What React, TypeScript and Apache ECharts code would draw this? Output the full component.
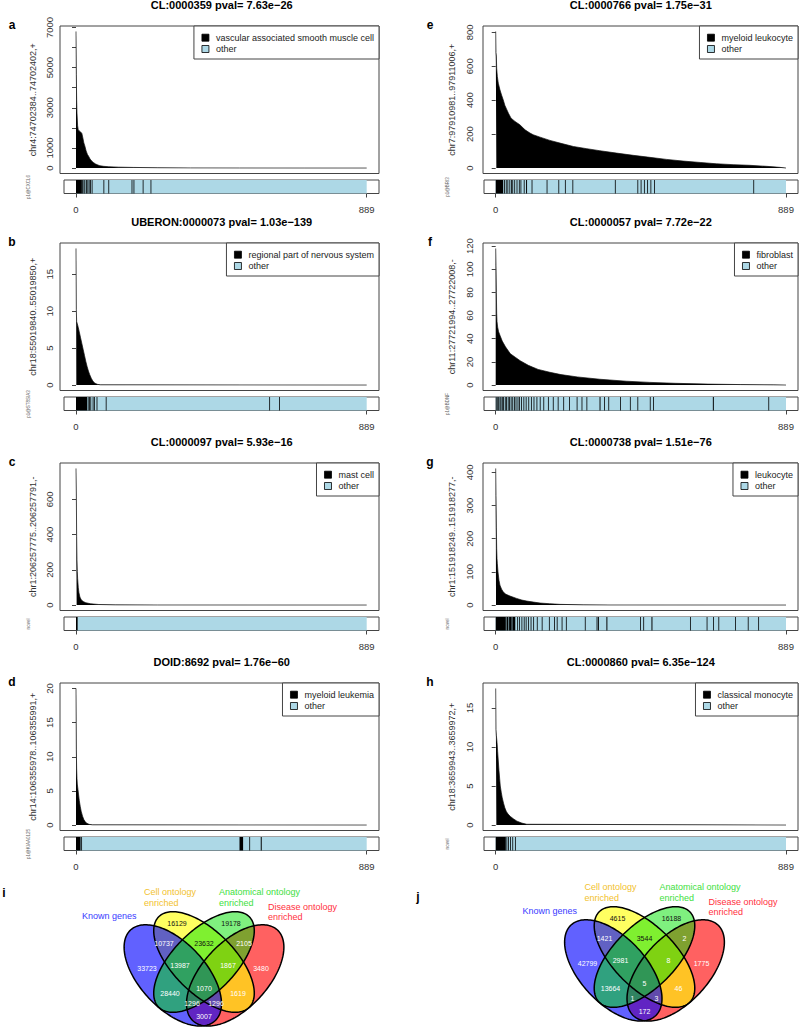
import React, { useEffect, useRef } from "react";
import * as echarts from "echarts";

const FONT = '"Liberation Sans", Arial, Helvetica, sans-serif';
const N_SAMPLES = 889;
const STRIP_TICKS = [0, 889];

// ---------- panel texts ----------
const letters = ["a", "b", "c", "d", "e", "f", "g", "h"];
const titles = [
  "CL:0000359 pval= 7.63e\u221226",
  "UBERON:0000073 pval= 1.03e\u2212139",
  "CL:0000097 pval= 5.93e\u221216",
  "DOID:8692 pval= 1.76e\u221260",
  "CL:0000766 pval= 1.75e\u221231",
  "CL:0000057 pval= 7.72e\u221222",
  "CL:0000738 pval= 1.51e\u221276",
  "CL:0000860 pval= 6.35e\u2212124",
];
const categories = [
  "vascular associated smooth muscle cell",
  "regional part of nervous system",
  "mast cell",
  "myeloid leukemia",
  "myeloid leukocyte",
  "fibroblast",
  "leukocyte",
  "classical monocyte",
];
const yNames = [
  "chr4:74702384..74702402,+",
  "chr18:55019840..55019850,+",
  "chr1:206257775..206257791,-",
  "chr14:106355978..106355991,+",
  "chr7:97910981..97911006,+",
  "chr11:27721994..27722008,-",
  "chr1:151918249..151918277,-",
  "chr18:3659943..3659972,+",
];
const stripNames = ["p1@CXCL6", "p1@ST8SIA3", "novel", "p1@KIAA0125", "p1@BRI3", "p1@BDNF", "novel", "novel"];

// ---------- y ticks ----------
const aTicks = [0, 1000, 2000, 3000, 4000, 5000, 6000, 7000];
const aTickLabels = [0, 1000, 3000, 5000, 7000];
const bTicks = [0, 5, 10, 15];
const cTicks = [0, 200, 400, 600];
const dTicks = [0, 5, 10, 15, 20];
const eTicks = [0, 200, 400, 600, 800];
const fTicks = [0, 20, 40, 60, 80, 100, 120];
const gTicks = [0, 100, 200, 300, 400];
const hTicks = [0, 5, 10, 15];

// ---------- sorted expression curves [rank, value] ----------
const aCurve = [[0, 6800], [1, 4650], [2, 3400], [3, 2750], [5, 2100], [7, 1900], [10, 1850], [14, 1800], [18, 1720], [21, 1500], [24, 1250], [27, 1100], [31, 850], [35, 680], [38, 600], [43, 450], [48, 350], [53, 280], [60, 200], [67, 150], [73, 115], [85, 85], [100, 65], [130, 45], [175, 30], [250, 15], [350, 7], [500, 3], [700, 1], [889, 0]];
const bCurve = [[0, 18.5], [1, 10.2], [2, 8.6], [4, 8.3], [7, 7.8], [10, 7.2], [14, 6.4], [18, 5.6], [22, 4.8], [26, 4], [30, 3.2], [34, 2.5], [38, 1.9], [42, 1.4], [47, 0.9], [52, 0.5], [58, 0.25], [65, 0.1], [75, 0.03], [889, 0]];
const cCurve = [[0, 775], [1, 630], [2, 390], [3, 260], [4, 190], [5, 150], [7, 100], [9, 70], [12, 45], [16, 30], [22, 20], [30, 13], [45, 7], [70, 3], [120, 1], [250, 0.3], [889, 0]];
const dCurve = [[0, 20], [1, 11], [2, 8.2], [3, 6.8], [4, 6], [6, 5.2], [8, 4.4], [10, 3.6], [13, 2.7], [16, 2], [20, 1.3], [24, 0.8], [28, 0.5], [33, 0.25], [40, 0.1], [50, 0.03], [889, 0]];
const eCurve = [[0, 805], [1, 680], [2, 660], [3, 588], [5, 540], [8, 500], [13, 461], [18, 430], [23, 402], [28, 370], [32, 353], [39, 323], [47, 294], [59, 275], [74, 255], [90, 225], [105, 206], [115, 196], [136, 182], [166, 163], [197, 147], [238, 127], [279, 114], [319, 102], [370, 88], [421, 75], [472, 63], [523, 51], [574, 41], [626, 33], [676, 25], [727, 20], [778, 16], [830, 10], [870, 4], [889, 0]];
const fCurve = [[0, 118], [1, 103], [2, 80], [3, 62], [4, 55], [6, 50], [9, 46], [13, 43], [20, 38], [30, 33], [45, 27], [60, 24], [75, 21], [100, 17], [130, 13.5], [166, 11], [200, 9], [250, 7], [319, 5], [400, 3.3], [472, 2.3], [550, 1.5], [650, 0.8], [750, 0.4], [850, 0.15], [889, 0]];
const gCurve = [[0, 412], [1, 330], [2, 235], [3, 170], [4, 140], [5, 125], [7, 100], [10, 75], [13, 60], [18, 48], [23, 40], [30, 33], [44, 27], [64, 20], [80, 15], [95, 12], [115, 9], [136, 6], [165, 4], [197, 2], [268, 0.6], [350, 0.2], [889, 0]];
const hCurve = [[0, 17.5], [1, 12.2], [2, 11.5], [4, 10.6], [6, 9.4], [8, 8.2], [10, 7], [12, 6], [14, 5], [17, 4.2], [20, 3.5], [24, 2.8], [28, 2.2], [33, 1.7], [38, 1.4], [45, 1.1], [54, 0.8], [65, 0.5], [80, 0.25], [95, 0.1], [889, 0]];

// ---------- category members: runs of ranks [start, end] ----------
const aMembers = [[0, 17], [19, 20], [23, 23], [26, 27], [31, 31], [35, 35], [39, 39], [43, 43], [48, 48], [84, 84], [99, 99], [170, 171], [176, 176], [204, 204], [228, 228]];
const bMembers = [[0, 33], [36, 37], [40, 41], [44, 44], [51, 51], [55, 55], [63, 63], [91, 92], [591, 591], [621, 622]];
const cMembers = [[0, 4]];
const dMembers = [[0, 13], [16, 16], [500, 510], [530, 530], [565, 567]];
const eMembers = [[0, 22], [26, 26], [31, 31], [36, 36], [42, 42], [47, 47], [51, 51], [57, 57], [64, 64], [71, 71], [76, 76], [86, 86], [93, 95], [110, 110], [156, 156], [192, 192], [212, 212], [235, 235], [365, 365], [434, 434], [444, 444], [454, 454], [464, 464], [474, 474], [485, 485], [789, 789]];
const fMembers = [[0, 2], [5, 5], [8, 9], [12, 12], [15, 16], [19, 19], [23, 24], [28, 28], [32, 33], [37, 37], [41, 41], [46, 47], [51, 51], [56, 56], [61, 62], [67, 67], [72, 72], [78, 79], [85, 85], [92, 92], [100, 100], [108, 108], [116, 117], [125, 125], [135, 135], [146, 146], [160, 160], [175, 175], [190, 190], [207, 207], [225, 225], [248, 248], [263, 263], [278, 278], [318, 320], [332, 332], [345, 345], [381, 381], [411, 411], [434, 434], [472, 472], [482, 482], [665, 667], [835, 835]];
const gMembers = [[0, 30], [33, 38], [41, 48], [51, 59], [66, 66], [72, 72], [79, 79], [86, 86], [92, 92], [99, 99], [107, 107], [115, 115], [126, 126], [141, 141], [163, 163], [179, 179], [187, 187], [202, 202], [215, 215], [273, 273], [309, 309], [313, 315], [339, 341], [442, 442], [452, 452], [477, 479], [595, 595], [646, 646], [666, 666], [682, 682], [733, 733], [772, 773], [804, 804]];
const hMembers = [[0, 30], [33, 34], [38, 38], [44, 44], [51, 51], [59, 59]];

// ---------- Venn diagrams ----------
const vennRegions = ["Y", "G", "BY", "YG", "GR", "B", "BYG", "YGR", "R", "BYGR", "BG", "YR", "BGR", "BYR", "BR"];
const vennICounts = [16129, 19178, 10737, 23632, 2105, 33723, 13987, 1867, 3480, 1070, 28440, 1619, 1296, 1296, 3007];
const vennJCounts = [4615, 16188, 1421, 3544, 2, 42799, 2981, 8, 1775, 5, 13664, 46, 1, 3, 172];
const vennSetLabels = ["Known genes", "Cell ontology\nenriched", "Anatomical ontology\nenriched", "Disease ontology\nenriched"];

// ---------- layout (pixels) ----------
const curves = [aCurve, bCurve, cCurve, dCurve, eCurve, fCurve, gCurve, hCurve];
const members = [aMembers, bMembers, cMembers, dMembers, eMembers, fMembers, gMembers, hMembers];
const ticks = [aTicks, bTicks, cTicks, dTicks, eTicks, fTicks, gTicks, hTicks];
const tickLabels = [aTickLabels, bTicks, cTicks, dTicks, eTicks, fTicks, gTicks, hTicks];

const COLS = [
  { boxL: 60, boxR: 379, stripL: 64, x0: 76, x889: 366.7, titleX: 221.7, letterX: 12, yNameX: 33, stripNameX: 28, labelMargin: 6 },
  { boxL: 483, boxR: 798, stripL: 484, x0: 495.7, x889: 786, titleX: 640.8, letterX: 430, yNameX: 452, stripNameX: 447, labelMargin: 9 },
];
const ROWS = [26, 243, 463, 683];
const BOX_H = 147.5;
const LIGHTBLUE = "#add8e6";
const LEGEND_FONT = 9;

const VENN_ANCHORS = [[204, 968], [644.5, 963]];
// ellipse geometry relative to anchor, pixels; ang = major-axis direction (deg, clockwise from +x)
const VENN_SETS = [
  { key: "R", dx: 31.2, dy: 7.4, A: 62, B: 33, ang: 133, fill: "rgba(255,0,0,0.62)" },
  { key: "Y", dx: 0, dy: -6, A: 64, B: 31, ang: 45, fill: "rgba(255,255,0,0.62)" },
  { key: "B", dx: -31.2, dy: 7.4, A: 62, B: 33, ang: 47, fill: "rgba(0,0,255,0.62)" },
  { key: "G", dx: 0, dy: -6, A: 64, B: 31, ang: 135, fill: "rgba(0,225,0,0.5)" },
];
const REGION_POS: Record<string, number[]> = {
  Y: [-27, -44.7], G: [27, -44.7], BY: [-40, -24.7], YG: [0, -24.7], GR: [40, -24.7],
  B: [-57, 0], BYG: [-24, -3], YGR: [24, -3], R: [57, 0], BYGR: [0, 20.3],
  BG: [-34, 25.3], YR: [34, 25.3], BGR: [-12, 35.5], BYR: [12, 35.5], BR: [0, 48.7],
};
const DARK_LABEL_REGIONS = ["Y", "G", "YG"];
const SET_LABEL_POS = [[-122, -57], [-60, -81], [15, -81], [64, -66.3]];
const SET_LABEL_COLORS = ["#3a3aff", "#f2c12e", "#3ee03e", "#ff3040"];

function measure(text: string, size: number) {
  const ctx = document.createElement("canvas").getContext("2d")!;
  ctx.font = `${size}px "Liberation Sans", Arial, sans-serif`;
  return ctx.measureText(text).width;
}

function txt(x: number, y: number, text: string, o: any = {}) {
  return {
    type: "text",
    x, y,
    rotation: o.rot || 0,
    z: o.z || 50,
    silent: true,
    style: {
      text,
      fill: o.color || "#000",
      fontSize: o.size || 10,
      fontWeight: o.bold ? "bold" : "normal",
      fontFamily: FONT,
      align: o.align || "center",
      verticalAlign: o.va || "middle",
      lineHeight: o.lh,
    },
  };
}

function ellipsePts(s: any, anchor: number[]) {
  const pts: number[][] = [];
  const th = (s.ang * Math.PI) / 180;
  const cx = anchor[0] + s.dx, cy = anchor[1] + s.dy;
  for (let i = 0; i < 180; i++) {
    const t = (i / 180) * 2 * Math.PI;
    pts.push([
      cx + s.A * Math.cos(t) * Math.cos(th) - s.B * Math.sin(t) * Math.sin(th),
      cy + s.A * Math.cos(t) * Math.sin(th) + s.B * Math.sin(t) * Math.cos(th),
    ]);
  }
  return pts;
}

function buildOption() {
  const grid: any[] = [];
  const xAxis: any[] = [];
  const yAxis: any[] = [];
  const series: any[] = [];
  const graphic: any[] = [];

  for (let p = 0; p < 8; p++) {
    const col = COLS[p < 4 ? 0 : 1];
    const B = ROWS[p % 4];
    const k = (col.x889 - col.x0) / N_SAMPLES;
    const M = Math.max(...curves[p].map((d) => d[1]));
    grid[p] = { left: col.boxL, top: B, width: col.boxR - col.boxL, height: BOX_H, show: true, borderColor: "#444", borderWidth: 1, backgroundColor: "transparent" };
    xAxis[p] = { gridIndex: p, type: "value", min: (col.boxL - col.x0) / k, max: (col.boxR - col.x0) / k, show: false };
    yAxis[p] = {
      gridIndex: p, type: "value", min: -0.04 * M, max: 1.04 * M,
      axisLine: { show: false }, splitLine: { show: false },
      axisTick: { show: true, length: 4, customValues: ticks[p], lineStyle: { color: "#444", width: 1 } },
      axisLabel: { show: true, customValues: tickLabels[p], rotate: 90, fontSize: 9.5, color: "#333", fontFamily: FONT, margin: col.labelMargin, formatter: (v: number) => String(v) },
    };
    const s = 8 + p;
    grid[s] = { left: col.stripL, top: B + 154, width: col.boxR - col.stripL, height: 13.5, show: true, borderColor: "#444", borderWidth: 1, backgroundColor: "transparent" };
    xAxis[s] = {
      gridIndex: s, type: "value", min: (col.stripL - col.x0) / k, max: (col.boxR - col.x0) / k,
      axisLine: { show: false }, splitLine: { show: false },
      axisTick: { show: true, length: 4, customValues: STRIP_TICKS, lineStyle: { color: "#444" } },
      axisLabel: { show: true, customValues: STRIP_TICKS, fontSize: 9.5, color: "#333", fontFamily: FONT, margin: 11, formatter: (v: number) => String(v) },
    };
    yAxis[s] = { gridIndex: s, type: "value", min: 0, max: 1, show: false };

    series.push({
      name: categories[p], type: "line", xAxisIndex: p, yAxisIndex: p, data: curves[p],
      showSymbol: false, symbol: "none", silent: true,
      lineStyle: { color: "#111", width: 0.7 }, areaStyle: { color: "#000", opacity: 1 },
    });
    series.push({
      name: "other", type: "custom", xAxisIndex: s, yAxisIndex: s, data: [[0, N_SAMPLES]], silent: true, clip: false,
      renderItem: (_: any, api: any) => {
        const p0 = api.coord([api.value(0), 1]);
        const p1 = api.coord([api.value(1), 0]);
        return { type: "rect", shape: { x: p0[0], y: p0[1], width: p1[0] - p0[0], height: p1[1] - p0[1] }, style: { fill: LIGHTBLUE } };
      },
    });
    series.push({
      name: categories[p] + " samples", type: "custom", xAxisIndex: s, yAxisIndex: s, data: members[p], silent: true, clip: false,
      renderItem: (_: any, api: any) => {
        const p0 = api.coord([api.value(0), 1]);
        const p1 = api.coord([api.value(1) + 1, 0]);
        return { type: "rect", shape: { x: p0[0], y: p0[1], width: Math.max(p1[0] - p0[0], 0.8), height: p1[1] - p0[1] }, style: { fill: "#000" } };
      },
    });

    graphic.push(txt(col.titleX, B - 21, titles[p], { size: 11, bold: true }));
    graphic.push(txt(col.letterX, B - 1, letters[p], { size: 12, bold: true }));
    graphic.push(txt(col.yNameX, B + BOX_H / 2, yNames[p], { size: 9, rot: Math.PI / 2, color: "#333" }));
    graphic.push(txt(col.stripNameX, B + 161, stripNames[p], { size: 4.5, rot: Math.PI / 2, color: "#666" }));

    const tw = measure(categories[p], LEGEND_FONT);
    const lw = 8 + 7 + 7 + tw + 5;
    const lx = col.boxR - lw;
    graphic.push({ type: "rect", z: 60, silent: true, shape: { x: lx, y: B, width: lw, height: 33 }, style: { fill: "#fff", stroke: "#444", lineWidth: 1 } });
    graphic.push({ type: "rect", z: 61, silent: true, shape: { x: lx + 8, y: B + 8.2, width: 7, height: 7 }, style: { fill: "#000", stroke: "#000", lineWidth: 0.8 } });
    graphic.push({ type: "rect", z: 61, silent: true, shape: { x: lx + 8, y: B + 19.5, width: 7, height: 7 }, style: { fill: LIGHTBLUE, stroke: "#000", lineWidth: 0.8 } });
    graphic.push(txt(lx + 22, B + 11.7, categories[p], { size: LEGEND_FONT, align: "left", z: 62, color: "#222" }));
    graphic.push(txt(lx + 22, B + 23.2, "other", { size: LEGEND_FONT, align: "left", z: 62, color: "#222" }));
  }

  const vennCounts = [vennICounts, vennJCounts];
  const vennLetters = [["i", 4, 893], ["j", 418, 897]];
  VENN_ANCHORS.forEach((anc, vi) => {
    const polys = VENN_SETS.map((s) => ellipsePts(s, anc));
    VENN_SETS.forEach((s, si) => {
      graphic.push({ type: "polygon", z: 10 + si, silent: true, shape: { points: polys[si] }, style: { fill: s.fill, stroke: "none" } });
    });
    polys.forEach((pts) => {
      graphic.push({ type: "polygon", z: 20, silent: true, shape: { points: pts }, style: { fill: "none", stroke: "#000", lineWidth: 1.5 } });
    });
    vennRegions.forEach((r, ri) => {
      const pos = REGION_POS[r];
      graphic.push(txt(anc[0] + pos[0], anc[1] + pos[1], String(vennCounts[vi][ri]), { size: 7, color: DARK_LABEL_REGIONS.includes(r) ? "#111" : "#fff", z: 30 }));
    });
    vennSetLabels.forEach((lab, li) => {
      const pos = SET_LABEL_POS[li];
      graphic.push(txt(anc[0] + pos[0], anc[1] + pos[1], lab, { size: 9, color: SET_LABEL_COLORS[li], align: "left", va: "top", lh: 10.5, z: 30 }));
    });
    const L = vennLetters[vi];
    graphic.push(txt(L[1] as number, L[2] as number, L[0] as string, { size: 12, bold: true }));
  });

  return { animation: false, backgroundColor: "#fff", grid, xAxis, yAxis, series, graphic };
}

export default function App() {
  const ref = useRef<HTMLDivElement>(null);
  useEffect(() => {
    const chart = echarts.init(ref.current!, undefined, { renderer: "svg" });
    chart.setOption(buildOption() as any);
    return () => chart.dispose();
  }, []);
  return <div ref={ref} style={{ position: "absolute", left: 0, top: 0, width: 800, height: 1033, background: "#fff" }} />;
}
